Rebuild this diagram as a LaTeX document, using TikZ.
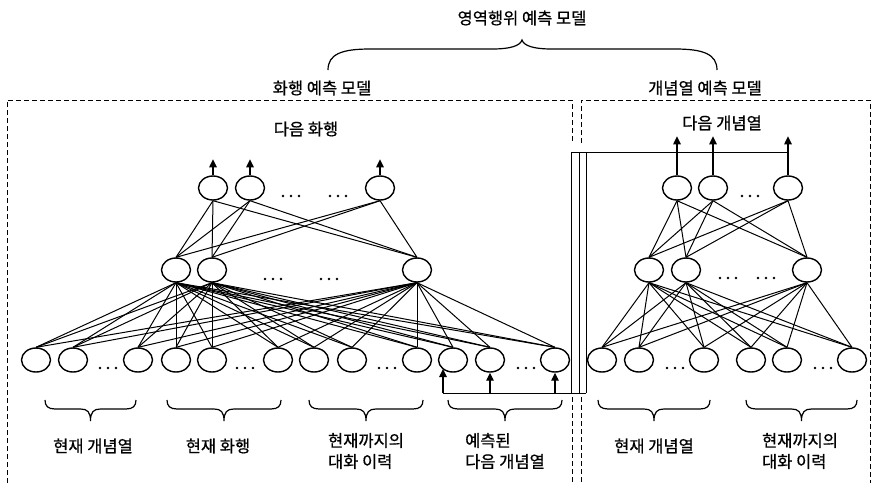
\documentclass[tikz,border=0pt]{standalone}
\usepackage{fontspec}
\newfontfamily\kr{Noto Sans CJK KR}[FakeBold=0.7]
\usetikzlibrary{shapes.geometric,arrows.meta}
\begin{document}
\begin{tikzpicture}[x=1pt,y=-1pt,
  neuron/.style={ellipse,draw,line width=1.4pt,minimum width=29pt,minimum height=24pt,inner sep=0pt},
  nnlink/.style={line width=1pt},
  lbl/.style={font=\kr\fontsize{16.5}{21}\selectfont,align=left,inner sep=0pt},
  dashbox/.style={dash pattern=on 5pt off 3pt,line width=1pt},
  outarrow/.style={line width=1.1pt,-{Triangle[length=8pt,width=7.5pt]}},
  pipe/.style={line width=1pt},
  bracestyle/.style={line width=1.2pt},
  pics/lowbrace/.style={code={
    \draw[bracestyle] (0,0) .. controls (0,6) and (3,9) .. (10,9)
      -- ({#1/2-10},9) .. controls ({#1/2-3},9) and ({#1/2},12) .. ({#1/2},21)
      .. controls ({#1/2},12) and ({#1/2+3},9) .. ({#1/2+10},9)
      -- ({#1-10},9) .. controls ({#1-3},9) and (#1,6) .. (#1,0);
  }}
]
\useasboundingbox (0,0) rectangle (873,483);

% titles
\node[lbl] (title) at (522,18) {영역행위 예측 모델};
\node[lbl] (sub1) at (322,88) {화행 예측 모델};
\node[lbl] (sub2) at (705,88) {개념열 예측 모델};
\node[lbl] (nx1) at (306,129) {다음 화행};
\node[lbl] (nx2) at (722,123) {다음 개념열};

% top brace
\draw[bracestyle] (328,70) .. controls (328,54) and (342,49) .. (370,49)
  -- (492,49) .. controls (510,49) and (520,46) .. (522,40)
  .. controls (524,46) and (534,49) .. (552,49)
  -- (675,49) .. controls (703,49) and (717,54) .. (717,70);

% dashed boxes
\draw[dashbox] (7,483) -- (7,100) -- (572,100) -- (572,143);
\draw[dashbox] (572,397) -- (572,483);
\draw[dashbox] (581,143) -- (581,100) -- (870,100) -- (870,483);
\draw[dashbox] (581,397) -- (581,483);

% left model nodes
\foreach \n/\x in {T1/213,T2/250,T3/380} \node[neuron] (\n) at (\x,188) {};
\foreach \n/\x in {M1/176,M2/212,M3/417} \node[neuron] (\n) at (\x,270) {};
\foreach \i/\x in {1/36,2/73,3/138,4/176,5/212,6/278,7/314,8/352,9/417,10/453,11/490,12/555}
  \node[neuron] (L\i) at (\x,360) {};

% right model nodes
\foreach \n/\x in {RT1/677,RT2/713,RT3/788} \node[neuron] (\n) at (\x,188) {};
\foreach \n/\x in {RM1/649,RM2/686,RM3/807} \node[neuron] (\n) at (\x,270) {};
\foreach \i/\x in {1/602,2/639,3/704,4/751,5/787,6/852}
  \node[neuron] (R\i) at (\x,360) {};

% links
\foreach \t in {T1,T2,T3} \foreach \m in {M1,M2,M3} \draw[nnlink] (\t.south) -- (\m.north);
\foreach \m in {M1,M2,M3} \foreach \i in {1,...,12} \draw[nnlink] (\m.south) -- (L\i.north);
\foreach \t in {RT1,RT2,RT3} \foreach \m in {RM1,RM2,RM3} \draw[nnlink] (\t.south) -- (\m.north);
\foreach \m in {RM1,RM2,RM3} \foreach \i in {1,...,6} \draw[nnlink] (\m.south) -- (R\i.north);

% output arrows
\foreach \t in {T1,T2,T3} \draw[outarrow] (\t.north) -- ++(0,-16);
\foreach \t in {RT1,RT2,RT3} \draw[outarrow] (\t.north) -- ++(0,-39);

% feedback pipe
\coordinate (pTR) at (788,152);
\coordinate (pA) at (571,152);
\coordinate (pB) at (579,152);
\coordinate (pC) at (586,152);
\coordinate (qA) at (571,393);
\coordinate (qB) at (579,393);
\coordinate (qC) at (586,393);
\coordinate (f1) at (443,393);
\coordinate (f2) at (490,393);
\coordinate (f3) at (555,393);
\coordinate (t1) at (443,369);
\draw[pipe] (pTR) -- (pA);
\draw[pipe] (pA) -- (qA);
\draw[pipe] (pB) -- (qB);
\draw[pipe] (pC) -- (qC);
\draw[pipe] (f1) -- (qC);
\draw[outarrow] (f1) -- (t1);
\draw[outarrow] (f2) -- (L11.south);
\draw[outarrow] (f3) -- (L12.south);

% dots
\foreach \cx/\cy in {291/196,338/196,273/279,329/279,750/196,728/278,766/278,
                     108/368,245/368,387/368,526/368,675/368,823/368}
  \foreach \d in {-8,0,8} \fill (\cx+\d,\cy) circle (1.4pt);

% bottom braces
\pic at (45,400) {lowbrace=91};
\pic at (167,400) {lowbrace=114};
\pic at (309,400) {lowbrace=114};
\pic at (448,400) {lowbrace=114};
\pic at (598,400) {lowbrace=112};
\pic at (746,400) {lowbrace=111};

% bottom labels
\node[lbl] (g1) at (93,446) {현재 개념열};
\node[lbl] (g2) at (218,446) {현재 화행};
\node[lbl] (g3) at (366,451) {현재까지의\\대화 이력};
\node[lbl] (g4) at (505,451) {예측된\\다음 개념열};
\node[lbl] (g5) at (654,446) {현재 개념열};
\node[lbl] (g6) at (800,451) {현재까지의\\대화 이력};
\end{tikzpicture}
\end{document}
